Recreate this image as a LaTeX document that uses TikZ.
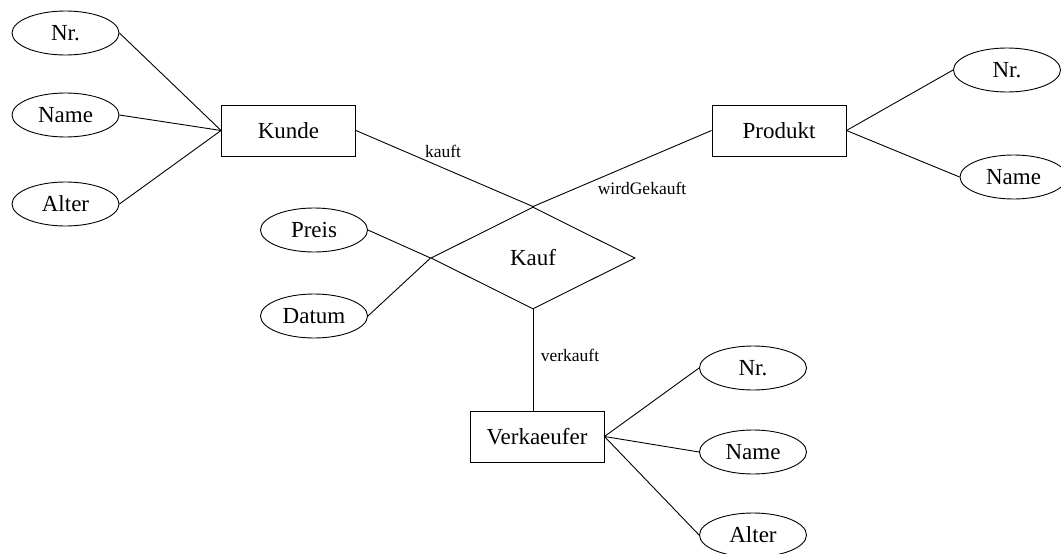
\documentclass[tikz,border=0pt]{standalone}
\usepackage{fontspec}
\setmainfont{Liberation Serif}
\usetikzlibrary{shapes.geometric}
\begin{document}
\begin{tikzpicture}[x=1pt,y=-1pt,
  every node/.style={font=\fontsize{23}{27}\selectfont},
  entity/.style={draw, rectangle, minimum width=134pt, minimum height=51pt, inner sep=0pt, line width=0.9pt},
  attr/.style={draw, ellipse, minimum width=107pt, minimum height=44pt, inner sep=0pt, line width=0.9pt},
  rel/.style={draw, diamond, minimum width=204pt, minimum height=102pt, inner sep=0pt, line width=0.9pt},
  conn/.style={line width=0.9pt},
  lbl/.style={font=\fontsize{17.5}{20}\selectfont, inner sep=0pt}]
\useasboundingbox (0,0) rectangle (1061,554);
\node[entity] (kunde) at (288.5,130.5) {Kunde};
\node[entity] (produkt) at (779,130.5) {Produkt};
\node[entity] (verk) at (537,436.5) {Verkaeufer};
\node[rel] (kauf) at (533,258) {Kauf};
\node[attr] (knr) at (65.5,33) {Nr.};
\node[attr] (kname) at (65.5,115) {Name};
\node[attr] (kalter) at (65.5,204) {Alter};
\node[attr] (pnr) at (1007,70) {Nr.};
\node[attr] (pname) at (1013.5,177) {Name};
\node[attr] (preis) at (314,230) {Preis};
\node[attr] (datum) at (314,316) {Datum};
\node[attr] (vnr) at (753,368) {Nr.};
\node[attr] (vname) at (753,452) {Name};
\node[attr] (valter) at (753,535) {Alter};
\node[lbl] (lk) at (443,151) {kauft};
\node[lbl] (lw) at (642,188) {wirdGekauft};
\node[lbl] (lv) at (570,355) {verkauft};
\draw[conn] (knr.east) -- (kunde.west);
\draw[conn] (kname.east) -- (kunde.west);
\draw[conn] (kalter.east) -- (kunde.west);
\draw[conn] (kunde.east) -- (kauf.north);
\draw[conn] (produkt.west) -- (kauf.north);
\draw[conn] (preis.east) -- (kauf.west);
\draw[conn] (datum.east) -- (kauf.west);
\draw[conn] (kauf.south) -- (kauf.south |- verk.north);
\draw[conn] (produkt.east) -- (pnr.west);
\draw[conn] (produkt.east) -- (pname.west);
\draw[conn] (verk.east) -- (vnr.west);
\draw[conn] (verk.east) -- (vname.west);
\draw[conn] (verk.east) -- (valter.west);
\end{tikzpicture}
\end{document}
